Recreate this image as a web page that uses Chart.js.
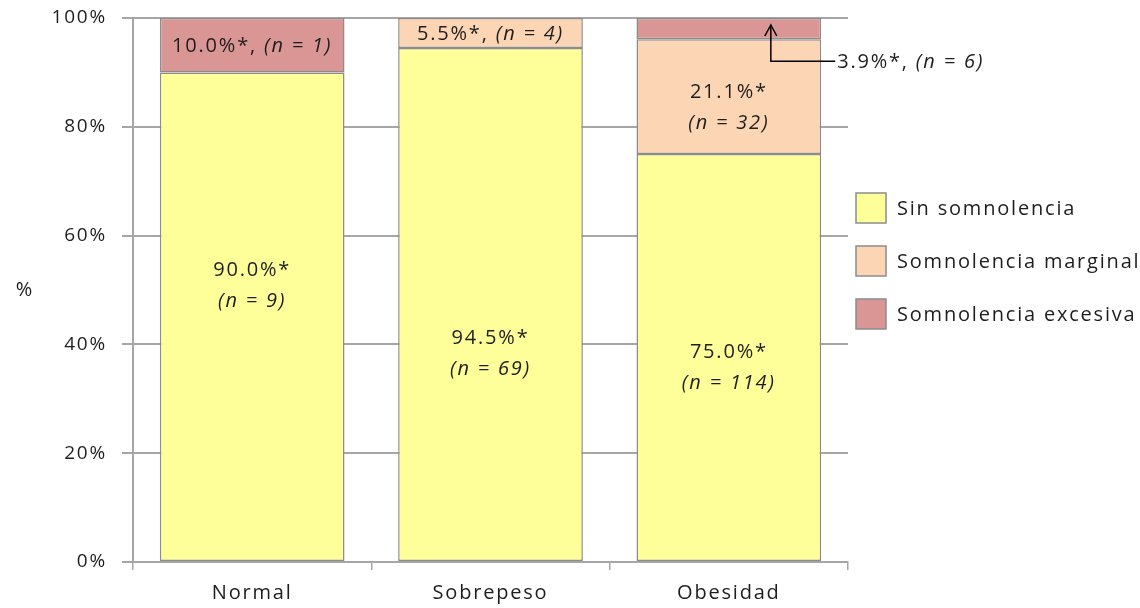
<!DOCTYPE html>
<html>
<head>
<meta charset="utf-8">
<script src="https://cdn.jsdelivr.net/npm/chart.js@4.4.1/dist/chart.umd.min.js"></script>
<style>
  html, body { margin: 0; padding: 0; background: #fff; }
  #wrap { width: 1140px; height: 608px; }
</style>
</head>
<body>
<div id="wrap"><canvas id="sleepChart" width="1140" height="608"></canvas></div>
<script>
const categories = ['Normal', 'Sobrepeso', 'Obesidad'];
const seriesNames = ['Sin somnolencia', 'Somnolencia marginal', 'Somnolencia excesiva'];
const sinSomnolencia = [90.0, 94.5, 75.0];
const somnMarginal = [0, 5.5, 21.1];
const somnExcesiva = [10.0, 0, 3.9];
const nSin = [9, 69, 114];
const nMarginal = [0, 4, 32];
const nExcesiva = [1, 0, 6];
const yTicks = [0, 20, 40, 60, 80, 100];

const colors = ['#FFFF99', '#FCD5B5', '#D99694'];
const textColor = '#1e1e1e';
const gridColor = '#a6a6a6';
const FONT = '"Open Sans", Lato, sans-serif';
const SPACING = '1.8px';

// where each label goes: 'center' = inside the segment on one line,
// 'two' = two lines around a value on the y axis, 'callout' = arrow out to the right
const labelLayout = [
    [{ mode: 'two', at: 50.8 }, { mode: 'two', at: 38.4 }, { mode: 'two', at: 35.7 }],
    [null, { mode: 'center' }, { mode: 'two', at: 83.5 }],
    [{ mode: 'center' }, null, { mode: 'callout' }]
];
const allValues = [sinSomnolencia, somnMarginal, somnExcesiva];
const allN = [nSin, nMarginal, nExcesiva];

function drawMixed(ctx, parts, x, y, align) {
    // parts: [[text, italic], ...]
    let total = 0;
    parts.forEach(p => {
        ctx.font = (p[1] ? 'italic ' : '') + '20px ' + FONT;
        total += ctx.measureText(p[0]).width;
    });
    let cx = align === 'left' ? x : x - total / 2;
    ctx.textAlign = 'left';
    parts.forEach(p => {
        ctx.font = (p[1] ? 'italic ' : '') + '20px ' + FONT;
        ctx.fillText(p[0], cx, y);
        cx += ctx.measureText(p[0]).width;
    });
}

// the reference text is wide and loosely spaced
const spacingPlugin = {
    id: 'spacing',
    beforeUpdate(chart) { chart.ctx.letterSpacing = SPACING; },
    beforeDraw(chart) { chart.ctx.letterSpacing = SPACING; }
};

const labelPlugin = {
    id: 'segmentLabels',
    afterDatasetsDraw(chart) {
        const ctx = chart.ctx;
        const yScale = chart.scales.y;
        ctx.save();
        ctx.letterSpacing = SPACING;
        ctx.fillStyle = textColor;
        ctx.textBaseline = 'middle';
        labelLayout.forEach((row, d) => {
            const meta = chart.getDatasetMeta(d);
            row.forEach((cfg, i) => {
                if (!cfg) return;
                const el = meta.data[i];
                const pct = allValues[d][i].toFixed(1) + '%*';
                const nTxt = '(n = ' + allN[d][i] + ')';
                if (cfg.mode === 'center') {
                    drawMixed(ctx, [[pct + ', ', false], [nTxt, true]], el.x, (el.y + el.base) / 2 + 1, 'center');
                } else if (cfg.mode === 'two') {
                    const yc = yScale.getPixelForValue(cfg.at);
                    drawMixed(ctx, [[pct, false]], el.x, yc - 15, 'center');
                    drawMixed(ctx, [[nTxt, true]], el.x, yc + 16, 'center');
                } else if (cfg.mode === 'callout') {
                    const ax = el.x + 42;
                    const tipY = el.y + 7;
                    const elbowY = el.base + 22;
                    const endX = el.x + el.width / 2 + 14;
                    ctx.strokeStyle = '#000';
                    ctx.lineWidth = 1.5;
                    ctx.beginPath();
                    ctx.moveTo(ax, tipY);
                    ctx.lineTo(ax, elbowY);
                    ctx.lineTo(endX, elbowY);
                    ctx.stroke();
                    ctx.beginPath();
                    ctx.moveTo(ax - 6, tipY + 11);
                    ctx.lineTo(ax, tipY);
                    ctx.lineTo(ax + 6, tipY + 11);
                    ctx.stroke();
                    drawMixed(ctx, [[pct + ', ', false], [nTxt, true]], endX + 2, elbowY + 1, 'left');
                }
            });
        });

        // y axis title, horizontal
        ctx.font = '20px ' + FONT;
        ctx.textAlign = 'center';
        ctx.fillText('%', 25, 290);

        // legend on the right
        const lx = 856, ly = 193, step = 53, box = 30;
        seriesNames.forEach((name, k) => {
            const top = ly + k * step;
            ctx.fillStyle = colors[k];
            ctx.fillRect(lx, top, box, box);
            ctx.strokeStyle = '#8c8c8c';
            ctx.lineWidth = 1.5;
            ctx.strokeRect(lx, top, box, box);
            ctx.fillStyle = textColor;
            ctx.font = '20px ' + FONT;
            ctx.textAlign = 'left';
            ctx.fillText(name, 897, top + box / 2 + 1);
        });
        ctx.restore();
    }
};

const ctx = document.getElementById('sleepChart').getContext('2d');
new Chart(ctx, {
    type: 'bar',
    data: {
        labels: categories,
        datasets: allValues.map((vals, k) => ({
            label: seriesNames[k],
            data: vals,
            backgroundColor: colors[k],
            borderColor: '#8c8c8c',
            borderWidth: 1.5,
            borderSkipped: false,
            barPercentage: 0.775,
            categoryPercentage: 1
        }))
    },
    options: {
        responsive: false,
        animation: false,
        layout: { padding: { top: 0, right: 292, left: 0, bottom: 0 } },
        plugins: {
            legend: { display: false },
            tooltip: { enabled: false }
        },
        scales: {
            x: {
                stacked: true,
                afterFit: s => { s.height = 46; s.paddingLeft = 0; s.paddingRight = 0; },
                grid: { drawOnChartArea: false, drawTicks: true, tickLength: 8, color: gridColor, lineWidth: 1.5, offset: true },
                border: { display: true, color: gridColor, width: 2 },
                ticks: { color: textColor, font: { family: FONT, size: 20 }, padding: 11 }
            },
            y: {
                stacked: true,
                min: 0,
                max: 100,
                afterFit: s => { s.width = 133; s.paddingTop = 18; s.paddingBottom = 0; },
                afterBuildTicks: s => { s.ticks = yTicks.map(v => ({ value: v })); },
                grid: { color: gridColor, lineWidth: 2, tickLength: 11 },
                border: { display: true, color: gridColor, width: 2 },
                ticks: {
                    color: textColor,
                    font: { family: FONT, size: 19 },
                    padding: 15,
                    callback: v => v + '%'
                }
            }
        }
    },
    plugins: [spacingPlugin, labelPlugin]
});
</script>
</body>
</html>
